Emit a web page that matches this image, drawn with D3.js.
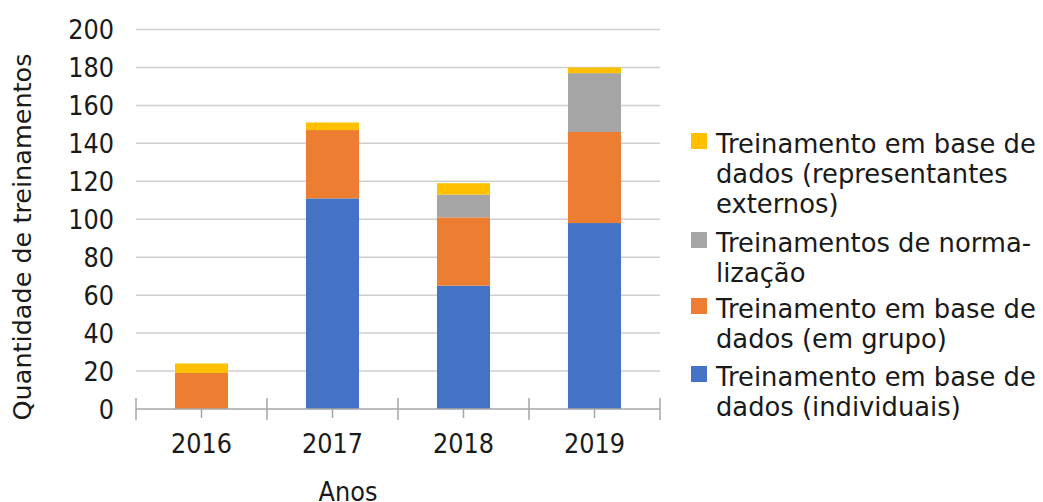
<!DOCTYPE html>
<html>
<head>
<meta charset="utf-8">
<script src="https://d3js.org/d3.v7.min.js"></script>
<style>
  body { margin: 0; background: #fff; }
  text { font-family: "DejaVu Sans", sans-serif; fill: #1a1a1a; }
</style>
</head>
<body>
<script>
// dados
var anos = ["2016", "2017", "2018", "2019"];
var individuais = [0, 111, 65, 98];
var emGrupo = [19, 36, 36, 48];
var normalizacao = [0, 0, 12, 31];
var externos = [5, 4, 6, 3];
var ticksY = [0, 20, 40, 60, 80, 100, 120, 140, 160, 180, 200];

var series = [
  { key: "individuais", valores: individuais, cor: "#4472c4",
    legenda: ["Treinamento em base de", "dados (individuais)"] },
  { key: "emGrupo", valores: emGrupo, cor: "#ed7d31",
    legenda: ["Treinamento em base de", "dados (em grupo)"] },
  { key: "normalizacao", valores: normalizacao, cor: "#a5a5a5",
    legenda: ["Treinamentos de norma-", "lização"] },
  { key: "externos", valores: externos, cor: "#ffc000",
    legenda: ["Treinamento em base de", "dados (representantes", "externos)"] }
];

var width = 1043, height = 502;
var margin = { top: 29.5, bottom: 93, left: 136, right: 383 };
var esticar = 1.14; // texto dos eixos um pouco mais alto que largo

var linhas = anos.map(function (a, i) {
  var o = { ano: a };
  series.forEach(function (s) { o[s.key] = s.valores[i]; });
  return o;
});

var svg = d3.select("body").append("svg")
  .attr("width", width)
  .attr("height", height);

var x = d3.scaleBand()
  .domain(anos)
  .range([margin.left, width - margin.right])
  .paddingInner(0.595)
  .paddingOuter(0.2975);

var xCat = d3.scaleBand()
  .domain(anos)
  .range([margin.left, width - margin.right]);

var y = d3.scaleLinear()
  .domain([0, 200])
  .range([height - margin.bottom, margin.top]);

// grade
svg.append("g")
  .selectAll("line")
  .data(ticksY.slice(1))
  .join("line")
  .attr("x1", margin.left)
  .attr("x2", width - margin.right)
  .attr("y1", function (d) { return y(d); })
  .attr("y2", function (d) { return y(d); })
  .attr("stroke", "#cfcfcf")
  .attr("stroke-width", 1.5);

// rotulos eixo Y
svg.append("g")
  .selectAll("text")
  .data(ticksY)
  .join("text")
  .attr("transform", function (d) { return "translate(114," + y(d) + ") scale(1," + esticar + ")"; })
  .attr("dy", "0.36em")
  .attr("text-anchor", "end")
  .style("font-size", "24px")
  .text(function (d) { return d; });

// barras empilhadas
var pilha = d3.stack().keys(series.map(function (s) { return s.key; }))(linhas);

svg.append("g")
  .selectAll("g")
  .data(pilha)
  .join("g")
  .attr("fill", function (d, i) { return series[i].cor; })
  .selectAll("rect")
  .data(function (d) { return d; })
  .join("rect")
  .attr("x", function (d) { return x(d.data.ano); })
  .attr("width", x.bandwidth())
  .attr("y", function (d) { return y(d[1]); })
  .attr("height", function (d) { return y(d[0]) - y(d[1]); });

// eixo X
var y0 = y(0);
svg.append("line")
  .attr("x1", margin.left).attr("x2", width - margin.right)
  .attr("y1", y0).attr("y2", y0)
  .attr("stroke", "#a6a6a6").attr("stroke-width", 1.5);

var limites = anos.map(function (a) { return xCat(a); }).concat([width - margin.right]);
svg.append("g")
  .selectAll("line")
  .data(limites)
  .join("line")
  .attr("x1", function (d) { return d; })
  .attr("x2", function (d) { return d; })
  .attr("y1", y0 - 11)
  .attr("y2", y0 + 11)
  .attr("stroke", "#a6a6a6").attr("stroke-width", 1.5);

svg.append("g")
  .selectAll("line")
  .data(anos)
  .join("line")
  .attr("x1", function (d) { return xCat(d) + xCat.bandwidth() / 2; })
  .attr("x2", function (d) { return xCat(d) + xCat.bandwidth() / 2; })
  .attr("y1", y0)
  .attr("y2", y0 + 9)
  .attr("stroke", "#a6a6a6").attr("stroke-width", 1.5);

svg.append("g")
  .selectAll("text")
  .data(anos)
  .join("text")
  .attr("transform", function (d) {
    return "translate(" + (xCat(d) + xCat.bandwidth() / 2) + ",452.5) scale(1," + esticar + ")";
  })
  .attr("text-anchor", "middle")
  .style("font-size", "24px")
  .text(function (d) { return d; });

// titulos dos eixos
svg.append("text")
  .attr("transform", "translate(348,501) scale(1," + esticar + ")")
  .attr("text-anchor", "middle")
  .style("font-size", "24px")
  .text("Anos");

svg.append("text")
  .attr("transform", "translate(31,237) rotate(-90)")
  .attr("text-anchor", "middle")
  .style("font-size", "25.5px")
  .text("Quantidade de treinamentos");

// legenda
var legBase = [153, 252, 318, 386];
var leg = svg.append("g")
  .selectAll("g")
  .data(series.slice().reverse())
  .join("g")
  .attr("transform", function (d, i) { return "translate(0," + legBase[i] + ")"; });

leg.append("rect")
  .attr("x", 691)
  .attr("y", -20)
  .attr("width", 16)
  .attr("height", 16)
  .attr("fill", function (d) { return d.cor; });

leg.append("text")
  .attr("x", 716)
  .style("font-size", "25.8px")
  .selectAll("tspan")
  .data(function (d) { return d.legenda; })
  .join("tspan")
  .attr("x", 716)
  .attr("y", function (d, i) { return i * 30; })
  .text(function (d) { return d; });
</script>
</body>
</html>
